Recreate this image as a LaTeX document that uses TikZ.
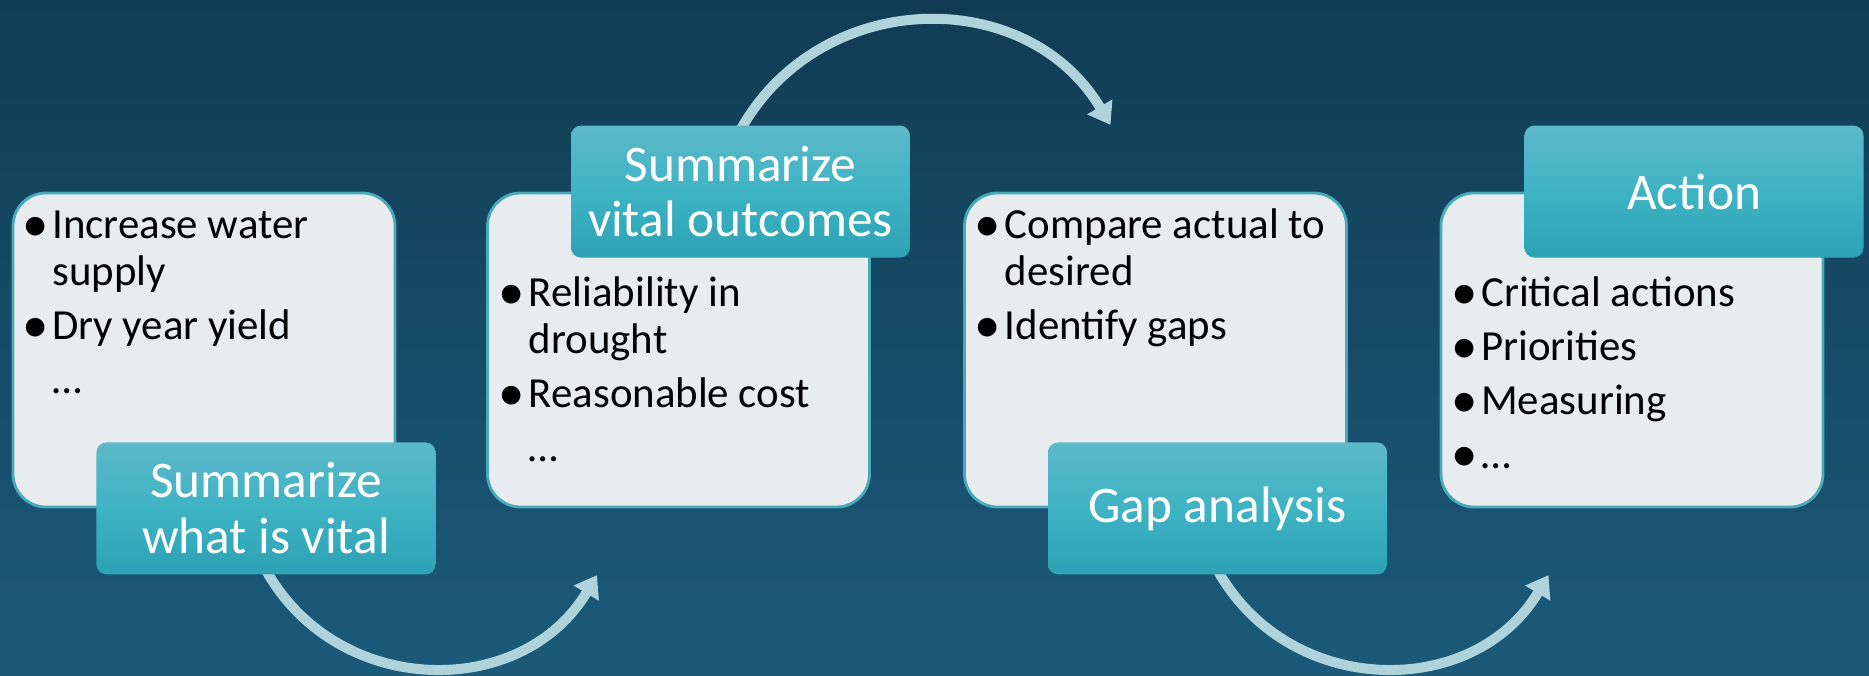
\documentclass[tikz,border=0pt]{standalone}
\usepackage{fontspec}
\setmainfont{Carlito}
\usepackage{xcolor}
\usepackage{tikz}
\usetikzlibrary{calc,arrows.meta,backgrounds}
\definecolor{bgtop}{HTML}{113C54}
\definecolor{bgbot}{HTML}{1B5A7A}
\definecolor{cardfill}{HTML}{E8ECEF}
\definecolor{cardedge}{HTML}{47A9B9}
\definecolor{tagtop}{HTML}{5DB9C9}
\definecolor{tagmid}{HTML}{3EB3C4}
\definecolor{tagbot}{HTML}{2DA2B4}
\definecolor{flowc}{HTML}{AED3DB}
\tikzset{
  box/.style={draw=cardedge, fill=cardfill, line width=0.8pt, rounded corners=0.33cm,
    minimum width=3.82cm, minimum height=3.14cm, inner sep=0pt},
  tag/.style={rounded corners=0.1cm, top color=tagtop, bottom color=tagbot, middle color=tagmid,
    minimum width=3.39cm, minimum height=1.32cm, inner sep=0pt, text=white, align=center,
    font=\fontsize{14.6}{15.9}\selectfont},
  items/.style={anchor=base west, inner sep=0pt, text=black, font=\fontsize{12.2}{13.4}\selectfont},
  flow/.style={draw=flowc, line width=0.1cm, -{Triangle[width=0.28cm,length=0.21cm]}, looseness=1.13},
}
\newcommand\bul{\makebox[0.30cm][l]{\makebox[0pt][l]{\raisebox{-0.03cm}{\fontsize{15}{13}\selectfont\textbullet}}}}
\newcommand\gap{\hspace*{0.30cm}}

\begin{document}
\begin{tikzpicture}
  \useasboundingbox (0,0) rectangle (18.69,-6.76);

  % cards
  \node[box] (box1) at (2.04,-3.50) {};
  \node[box] (box2) at (6.785,-3.50) {};
  \node[box] (box3) at (11.555,-3.50) {};
  \node[box] (box4) at (16.32,-3.50) {};

  \node[items] (txt1) at ($(box1.north west)+(0.10,-0.47)$) {%
    \begin{tabular}[t]{@{}l@{}}
      \bul Increase water\\
      \gap supply\\[2pt]
      \bul Dry year yield\\[2pt]
      \gap …
    \end{tabular}};
  \node[items] (txt2) at ($(box2.north west)+(0.12,-1.15)$) {%
    \begin{tabular}[t]{@{}l@{}}
      \bul Reliability in\\
      \gap drought\\[2pt]
      \bul Reasonable cost\\[2pt]
      \gap …
    \end{tabular}};
  \node[items] (txt3) at ($(box3.north west)+(0.11,-0.47)$) {%
    \begin{tabular}[t]{@{}l@{}}
      \bul Compare actual to\\
      \gap desired\\[2pt]
      \bul Identify gaps
    \end{tabular}};
  \node[items] (txt4) at ($(box4.north west)+(0.11,-1.15)$) {%
    \begin{tabular}[t]{@{}l@{}}
      \bul Critical actions\\[2pt]
      \bul Priorities\\[2pt]
      \bul Measuring\\[2pt]
      \bul …
    \end{tabular}};

  % headings
  \node[tag] (sum1) at ($(box1.south)+(0.62,0)$) {Summarize\\what is vital};
  \node[tag] (sum2) at ($(box2.north)+(0.62,0)$) {Summarize\\vital outcomes};
  \node[tag] (gap)  at ($(box3.south)+(0.62,0)$) {Gap analysis};
  \node[tag] (act)  at ($(box4.north)+(0.62,0)$) {Action};

  \coordinate (e1) at ($(sum1.south)+(3.31,0)$);
  \coordinate (e2) at ($(sum2.north)+(3.70,0)$);
  \coordinate (e3) at ($(gap.south)+(3.31,0)$);

  \begin{scope}[on background layer]
    \shade[top color=bgtop, bottom color=bgbot] (0,0) rectangle (18.69,-6.76);
    \draw[flow] ($(sum1.south)+(0,0.05)$) to[bend right=60] (e1);
    \draw[flow] ($(sum2.north)+(0,-0.05)$) to[bend left=60] (e2);
    \draw[flow] ($(gap.south)+(0,0.05)$) to[bend right=60] (e3);
  \end{scope}
\end{tikzpicture}
\end{document}
